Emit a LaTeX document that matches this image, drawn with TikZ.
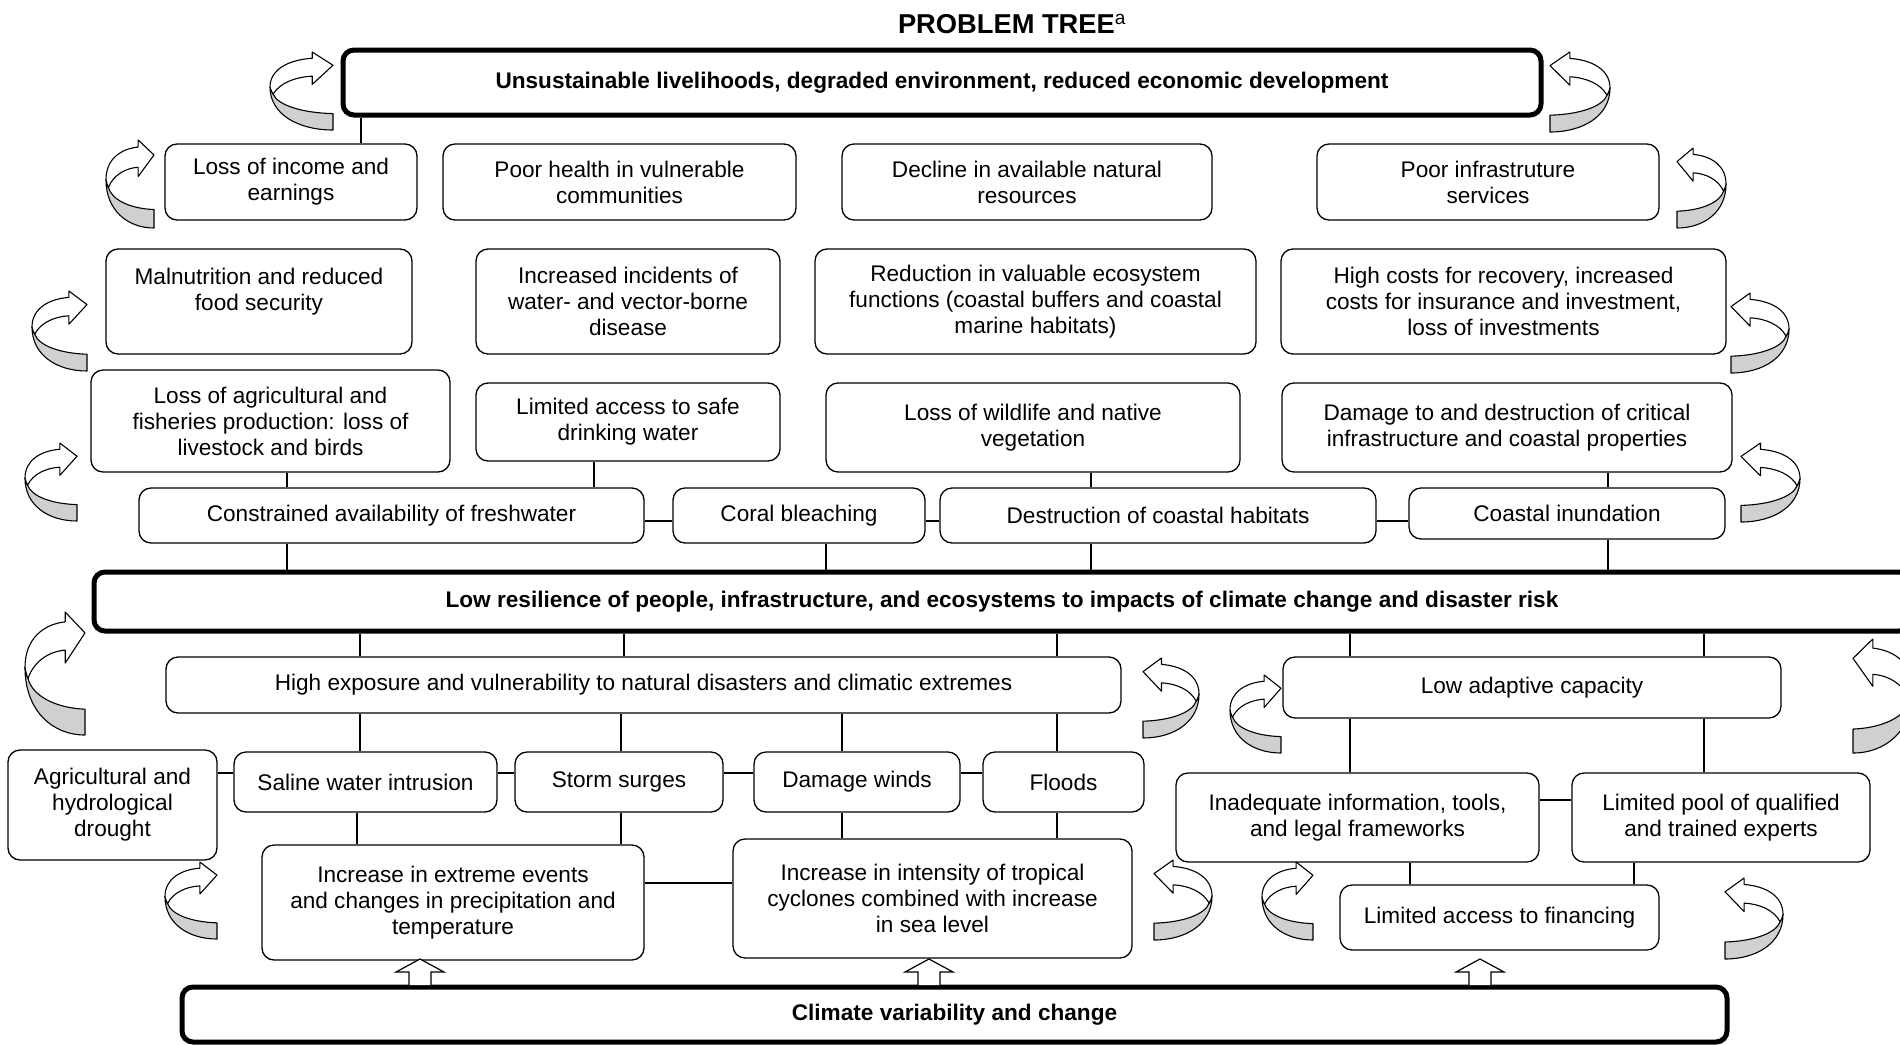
\documentclass[tikz,border=0pt]{standalone}
\usepackage{fontspec}
\setmainfont{Liberation Sans}
\usetikzlibrary{calc}
\definecolor{ribbon}{RGB}{208,208,208}
\tikzset{
  box/.style={draw, rounded corners=12pt, line width=1.3pt, align=center, inner sep=0pt, font=\fontsize{22.6}{26}\selectfont},
  rootbox/.style={box, line width=5pt, rounded corners=11pt, font=\bfseries\fontsize{22.6}{26}\selectfont},
  sz/.style 2 args={minimum width=#1pt, minimum height=#2pt},
  link/.style={line width=1.3pt},
  hlink/.style={line width=2pt},
  upblock/.style={draw, fill=white, line width=1.2pt},
  loop arrow/.pic={
    \draw[fill=ribbon, line width=1.1pt, line join=round] (0,0.45) .. controls (0,0.8) and (0.45,1) .. (1,1) -- (1,0.79) .. controls (0.5,0.78) and (0.12,0.68) .. (0.05,0.54) .. controls (0.03,0.52) and (0.01,0.48) .. cycle;
    \draw[fill=white, line width=1.1pt, line join=round] (0.67,0.31) -- (0.67,0.415) -- (1,0.17) -- (0.67,0) -- (0.67,0.08) .. controls (0.3,0.1) and (0,0.22) .. (0,0.45) .. controls (0.01,0.48) and (0.03,0.52) .. (0.05,0.54) .. controls (0.15,0.4) and (0.4,0.32) .. cycle;
  }
}

\begin{document}
\begin{tikzpicture}[x=1pt, y=-1pt]
\useasboundingbox (0,0) rectangle (1900,1044);
\node (title) at (1012,24) {\bfseries\fontsize{27.3}{32}\selectfont PROBLEM TREE\textsuperscript{\mdseries a}};

% effects
\node[rootbox, sz={1198}{65}] (top) at (942,82.5) {Unsustainable livelihoods, degraded environment, reduced economic development};
\node[box, sz={252}{76}] (income) at (291,182) {Loss of income and\\earnings};
\node[box, sz={353}{76}] (health) at (619.5,182) {Poor health in vulnerable\\communities};
\node[box, sz={370}{76}] (decline) at (1027,182) {Decline in available natural\\resources};
\node[box, sz={342}{76}] (infra) at (1488,182) {Poor infrastruture\\services};

\node[box, sz={306}{105}, text depth=25pt] (malnut) at (259,301.5) {Malnutrition and reduced\\food security};
\node[box, sz={304}{105}] (disease) at (628,301.5) {Increased incidents of\\water- and vector-borne\\disease};
\node[box, sz={441}{105}] (ecofn) at (1035.5,301.5) {Reduction in valuable ecosystem\\functions (coastal buffers and coastal\\marine habitats)};
\node[box, sz={445}{105}] (costs) at (1503.5,301.5) {High costs for recovery, increased\\costs for insurance and investment,\\loss of investments};

\node[box, sz={359}{102}] (agri) at (270.5,421) {Loss of agricultural and\\fisheries production: loss of\\livestock and birds};
\node[box, sz={304}{78}] (water) at (628,422) {Limited access to safe\\drinking water};
\node[box, sz={414}{89}] (wildlife) at (1033,427.5) {Loss of wildlife and native\\vegetation};
\node[box, sz={450}{89}] (damage) at (1507,427.5) {Damage to and destruction of critical\\infrastructure and coastal properties};

\node[box, sz={505}{55}] (constr) at (391.5,515.5) {Constrained availability of freshwater};
\node[box, sz={252}{55}] (coral) at (799,515.5) {Coral bleaching};
\node[box, sz={436}{55}] (destr) at (1158,515.5) {Destruction of coastal habitats};
\node[box, sz={316}{51}] (inund) at (1567,513.5) {Coastal inundation};

% core problem
\node[rootbox, sz={1816}{59}] (resil) at (1002,601.5) {Low resilience of people, infrastructure, and ecosystems to impacts of climate change and disaster risk};

% causes
\node[box, sz={955}{56}] (expo) at (643.5,685) {High exposure and vulnerability to natural disasters and climatic extremes};
\node[box, sz={498}{61}] (adapt) at (1532,687.5) {Low adaptive capacity};

\node[box, sz={209}{110}] (drought) at (112.5,805) {Agricultural and\\hydrological\\drought};
\node[box, sz={263}{60}] (saline) at (365.5,782) {Saline water intrusion};
\node[box, sz={208}{60}] (storm) at (619,782) {Storm surges};
\node[box, sz={206}{60}] (winds) at (857,782) {Damage winds};
\node[box, sz={161}{60}] (floods) at (1063.5,782) {Floods};

\node[box, sz={382}{115}] (extreme) at (453,902.5) {Increase in extreme events\\and changes in precipitation and\\temperature};
\node[box, sz={399}{119}] (cyclone) at (932.5,898.5) {Increase in intensity of tropical\\cyclones combined with increase\\in sea level};

\node[box, sz={363}{89}] (info) at (1357.5,817.5) {Inadequate information, tools,\\and legal frameworks};
\node[box, sz={298}{89}] (experts) at (1721,817.5) {Limited pool of qualified\\and trained experts};
\node[box, sz={319}{65}] (finance) at (1499.5,917.5) {Limited access to financing};

\node[rootbox, sz={1545}{55}] (climate) at (954.5,1014.5) {Climate variability and change};

% links
\foreach \xx/\a/\b in {361/top/income, 287/agri/constr, 594/water/constr, 1091/wildlife/destr, 1608/damage/inund,
  287/constr/resil, 826/coral/resil, 1091/destr/resil, 1608/inund/resil,
  360/resil/expo, 624/resil/expo, 1057/resil/expo, 1350/resil/adapt, 1704/resil/adapt,
  360/expo/saline, 621/expo/storm, 842/expo/winds, 1057/expo/floods,
  357/saline/extreme, 621/storm/extreme, 842/winds/cyclone, 1057/floods/cyclone,
  1350/adapt/info, 1704/adapt/experts, 1410/info/finance, 1634/experts/finance}
  \draw[link] (\xx,0 |- \a.south) -- (\xx,0 |- \b.north);
\foreach \a/\b/\yy in {constr/coral/521, coral/destr/521, destr/inund/521,
  drought/saline/773, saline/storm/773, storm/winds/773, winds/floods/773,
  extreme/cyclone/883, info/experts/800}
  \draw[hlink] (\a.east |- 0,\yy) -- (\b.west |- 0,\yy);

% up arrows from the root cause
\foreach \xx in {420,929,1480}
  \draw[upblock] (\xx-11,985) -- (\xx-11,972) -- (\xx-24,972) -- (\xx,959) -- (\xx+24,972) -- (\xx+11,972) -- (\xx+11,985);

% feedback arrows
\foreach \xa/\yt/\w/\h in {270/52/63/78, 1610/52/-60/80, 106/140/48/88, 1726/148/-49/80,
  32/291/55/80, 1789/293/-58/80, 25/443/52/78, 1800/443/-59/79,
  25/612/60/123, 1199/658/-56/80, 1230/675/51/78, 1913/639/-60/114,
  165/862/52/77, 1212/860/-58/80, 1262/862/51/78, 1783/878/-58/81}
  \pic[xscale=\w, yscale=\h] at (\xa,\yt) {loop arrow};
\end{tikzpicture}
\end{document}
